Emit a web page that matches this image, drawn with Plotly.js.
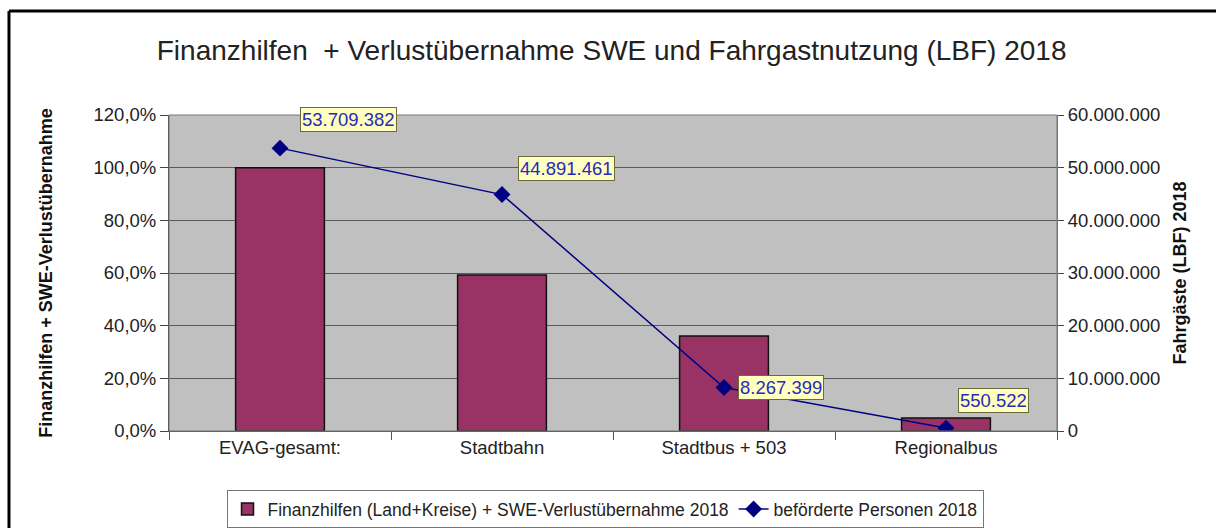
<!DOCTYPE html>
<html>
<head>
<meta charset="utf-8">
<script src="https://cdn.plot.ly/plotly-3.0.1.min.js"></script>
<style>html,body{margin:0;padding:0;background:#fff;}#chart{width:1216px;height:528px;}</style>
</head>
<body>
<div id="chart"></div>
<script>
const categories = ["EVAG-gesamt:", "Stadtbahn", "Stadtbus + 503", "Regionalbus"];
const finanzhilfenShare = [1.0, 0.592, 0.361, 0.049];
const passengers = [53709382, 44891461, 8267399, 550522];
const passengerLabels = ["53.709.382", "44.891.461", "8.267.399", "550.522"];
const barName = "Finanzhilfen (Land+Kreise) + SWE-Verlustübernahme 2018";
const lineName = "beförderte Personen 2018";
const titleText = "Finanzhilfen  + Verlustübernahme SWE und Fahrgastnutzung (LBF) 2018";
const leftTitle = "Finanzhilfen + SWE-Verlustübernahme";
const rightTitle = "Fahrgäste (LBF) 2018";

const FONT = "Liberation Sans, Arial, sans-serif";

const bar = {
  type: "bar", x: categories, y: finanzhilfenShare, name: barName,
  marker: {color: "#993366", line: {color: "#111", width: 1.5}},
  yaxis: "y", hoverinfo: "skip"
};
const line = {
  type: "scatter", mode: "lines+markers", x: categories, y: passengers, name: lineName,
  line: {color: "#000080", width: 1.5},
  marker: {symbol: "diamond", size: 13, color: "#000080"},
  yaxis: "y2", hoverinfo: "skip"
};

const shifts = [[20, 16, "bottom"], [16, 14, "bottom"], [14, 0, "middle"], [12, 15, "bottom"]];
const annotations = categories.map((c, i) => ({
  x: c, y: passengers[i], xref: "x", yref: "y2",
  text: passengerLabels[i], showarrow: false,
  xanchor: "left", yanchor: shifts[i][2], xshift: shifts[i][0], yshift: shifts[i][1],
  bgcolor: "#ffffc0", bordercolor: "#6b6b3a", borderwidth: 1, borderpad: 1,
  font: {family: FONT, size: 18.5, color: "#2a2ab8"}
}));

const layout = {
  width: 1216, height: 528,
  margin: {l: 169, r: 159, t: 115, b: 97, pad: 0, autoexpand: false},
  paper_bgcolor: "#ffffff", plot_bgcolor: "#c0c0c0",
  separators: ",.",
  font: {family: FONT, size: 18, color: "#222"},
  showlegend: true,
  bargap: 0.6,
  title: {text: titleText, x: 0.503, xanchor: "center", y: 0.905, yanchor: "middle",
          font: {family: FONT, size: 28, color: "#222"}},
  xaxis: {
    type: "category", showgrid: false, ticks: "outside", tickson: "boundaries", automargin: false,
    ticklen: 8, tickcolor: "#555", showline: true, linecolor: "#555", linewidth: 1,
    tickfont: {family: FONT, size: 18.5, color: "#222"}, fixedrange: true
  },
  yaxis: {
    range: [0, 1.2], dtick: 0.2, tickformat: ".1%", showgrid: true, automargin: false,
    gridcolor: "#5a5a5a", gridwidth: 1, zeroline: false,
    ticks: "outside", ticklen: 8, tickcolor: "#444", showline: true, linecolor: "#444",
    tickfont: {family: FONT, size: 18.5, color: "#222"},
    title: {text: leftTitle, standoff: 36, font: {family: FONT, size: 18, color: "#111", weight: "bold"}},
    fixedrange: true
  },
  yaxis2: {
    overlaying: "y", side: "right", range: [0, 60000000], dtick: 10000000, automargin: false,
    tickformat: ",d", showgrid: false, zeroline: false,
    ticks: "outside", ticklen: 6, tickcolor: "#444", showline: true, linecolor: "#777",
    tickfont: {family: FONT, size: 18.5, color: "#222"},
    title: {text: rightTitle, standoff: 14, font: {family: FONT, size: 18, color: "#111", weight: "bold"}},
    fixedrange: true
  },
  legend: {
    orientation: "h", x: 0.491, xanchor: "center", y: -0.187, yanchor: "top",
    bordercolor: "#777", borderwidth: 1, bgcolor: "#fff",
    font: {family: FONT, size: 17.5, color: "#222"}, itemwidth: 30
  },
  annotations: annotations,
  shapes: [
    {type: "line", xref: "paper", yref: "paper", x0: -0.1802, x1: -0.1802, y0: -0.35, y1: 1.329,
     line: {color: "#000", width: 3}},
    {type: "line", xref: "paper", yref: "paper", x0: -0.1802, x1: 1.25, y0: 1.329, y1: 1.329,
     line: {color: "#000", width: 3}},
    {type: "rect", xref: "paper", yref: "paper", x0: 0, x1: 1, y0: 0, y1: 1,
     line: {color: "#777", width: 1}, layer: "above"}
  ]
};

Plotly.newPlot("chart", [bar, line], layout, {displayModeBar: false, staticPlot: true});
</script>
</body>
</html>
